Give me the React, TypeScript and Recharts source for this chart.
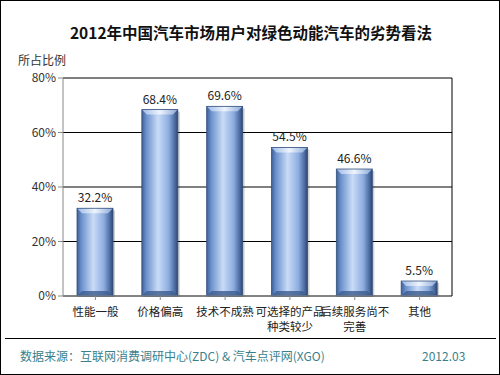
import React from 'react';
import { BarChart, Bar, XAxis, YAxis, CartesianGrid, LabelList } from 'recharts';

const categories = ['性能一般', '价格偏高', '技术不成熟', '可选择的产品\n种类较少', '后续服务尚不\n完善', '其他'];
const values = [32.2, 68.4, 69.6, 54.5, 46.6, 5.5];
const yTicks = [0, 20, 40, 60, 80];
const title = '2012年中国汽车市场用户对绿色动能汽车的劣势看法';
const yLabel = '所占比例';
const source = '数据来源：互联网消费调研中心(ZDC) & 汽车点评网(XGO)';
const dateText = '2012.03';

const data = categories.map((c, i) => ({ name: c, value: values[i] }));

const FONT = '"Noto Sans CJK SC", "Noto Sans", sans-serif';

const BarShape = (props: any) => {
  const { x, y, width, height } = props;
  if (height <= 0) return null;
  const b = Math.min(5, height / 3);
  return (
    <g>
      <rect x={x + 2} y={y + 2} width={width} height={height - 1} fill="#000" opacity={0.18} />
      <rect x={x} y={y} width={width} height={height} fill="url(#barGrad)" />
      <polygon
        points={`${x},${y} ${x + width},${y} ${x + width - b},${y + b} ${x + b},${y + b}`}
        fill="url(#topGrad)"
      />
      <polygon
        points={`${x + b},${y + height - b} ${x + width - b},${y + height - b} ${x + width},${y + height} ${x},${y + height}`}
        fill="#3c5c8e"
        opacity={0.8}
      />
      <rect x={x} y={y} width={width} height={height} fill="none" stroke="#34507e" strokeWidth={0.8} />
    </g>
  );
};

const CatTick = (props: any) => {
  const { x, y, payload } = props;
  const lines = String(payload.value).split('\n');
  return (
    <g>
      {lines.map((l: string, i: number) => (
        <text key={i} x={x} y={y + 14 + i * 15} textAnchor="middle" fontSize={11.5} fill="#222" fontFamily={FONT}>
          {l}
        </text>
      ))}
    </g>
  );
};

export default function App() {
  return (
    <div
      style={{
        position: 'absolute',
        left: 0,
        top: 0,
        width: 500,
        height: 375,
        background: '#fff',
        border: '1px solid #000',
        boxSizing: 'border-box',
        fontFamily: FONT,
        overflow: 'hidden',
      }}
    >
      <div
        style={{
          position: 'absolute',
          top: 20,
          left: 0,
          width: 500,
          textAlign: 'center',
          fontSize: 15.5,
          fontWeight: 'bold',
          color: '#111',
        }}
      >
        {title}
      </div>
      <div style={{ position: 'absolute', top: 50, left: 17, fontSize: 12, color: '#333' }}>{yLabel}</div>
      <div style={{ position: 'absolute', left: 0, top: 0 }}>
        <BarChart width={498} height={373} data={data} margin={{ top: 77, right: 46, bottom: 38, left: 11 }}>
          <defs>
            <linearGradient id="barGrad" x1="0" y1="0" x2="1" y2="0">
              <stop offset="0" stopColor="#3e5f96" />
              <stop offset="0.12" stopColor="#6a90cc" />
              <stop offset="0.45" stopColor="#c9dcf7" />
              <stop offset="0.75" stopColor="#8cacdf" />
              <stop offset="0.92" stopColor="#4a6aa0" />
              <stop offset="1" stopColor="#2d4670" />
            </linearGradient>
            <linearGradient id="topGrad" x1="0" y1="0" x2="1" y2="0">
              <stop offset="0" stopColor="#9fbbe6" />
              <stop offset="0.5" stopColor="#eef4fd" />
              <stop offset="1" stopColor="#8aa8d8" />
            </linearGradient>
          </defs>
          <CartesianGrid vertical={false} stroke="#000" strokeWidth={1} />
          <XAxis
            dataKey="name"
            interval={0}
            tick={<CatTick />}
            tickLine={{ stroke: '#888' }}
            axisLine={{ stroke: '#888' }}
            tickSize={4}
            height={40}
          />
          <YAxis
            domain={[0, 80]}
            ticks={yTicks}
            tickFormatter={(v: number) => `${v}%`}
            tick={{ fontSize: 12, fill: '#333', fontFamily: FONT }}
            tickLine={{ stroke: '#888' }}
            axisLine={{ stroke: '#888' }}
            tickSize={5}
            width={51}
          />
          <YAxis yAxisId="r" orientation="right" domain={[0, 80]} tick={false} tickLine={false} axisLine={{ stroke: '#000' }} width={1} />
          <Bar dataKey="value" barSize={36} shape={<BarShape />} isAnimationActive={false}>
            <LabelList
              dataKey="value"
              position="top"
              offset={6}
              formatter={(v: any) => `${v}%`}
              style={{ fontSize: 12, fill: '#222', fontFamily: FONT }}
            />
          </Bar>
        </BarChart>
      </div>
      <div style={{ position: 'absolute', left: 4, top: 337, width: 491, height: 0, borderTop: '1.5px solid #000' }} />
      <div style={{ position: 'absolute', left: 19, top: 346, fontSize: 12, color: '#3a7f8c' }}>{source}</div>
      <div style={{ position: 'absolute', left: 421, top: 346, fontSize: 12, color: '#3a7f8c' }}>{dateText}</div>
    </div>
  );
}
